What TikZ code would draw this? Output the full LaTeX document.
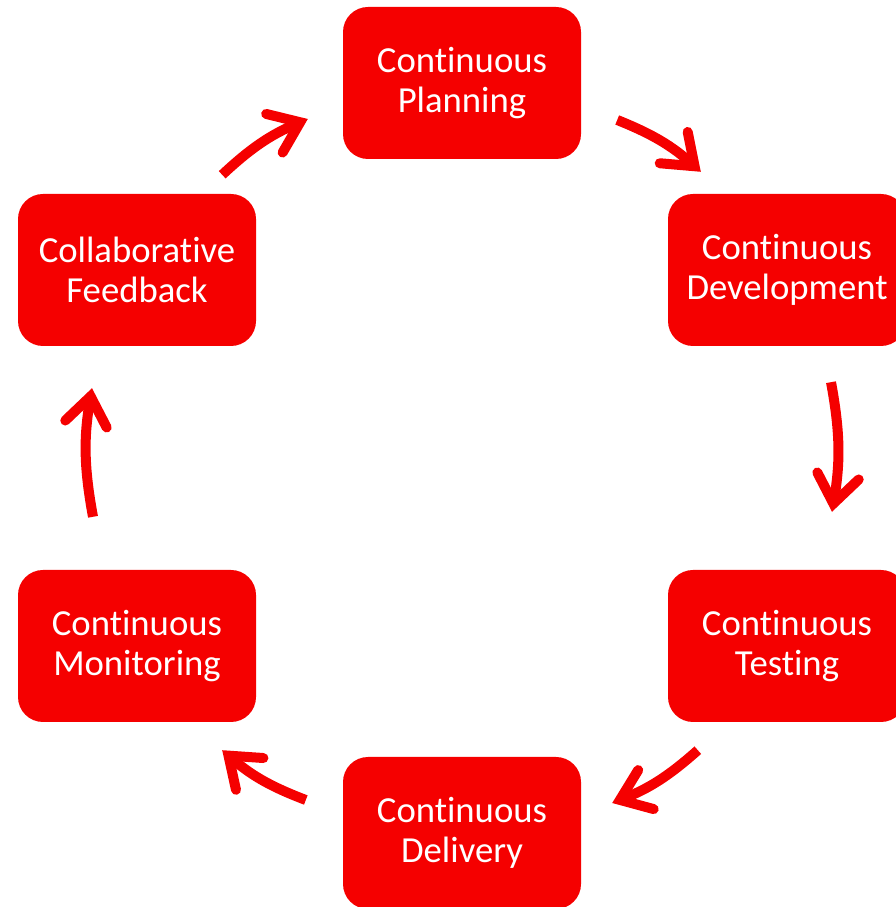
\documentclass[tikz,border=0pt]{standalone}
\usepackage{fontspec}
\setmainfont{Carlito}[Ligatures=NoCommon]
\usetikzlibrary{arrows.meta,calc}
\definecolor{boxred}{RGB}{245,0,0}
\tikzset{
  stage/.style={fill=boxred, draw=none, rounded corners=25pt, minimum width=238pt, minimum height=152pt,
    text=white, align=center, inner sep=0pt, font=\fontsize{36.7pt}{40pt}\selectfont},
  flow/.style={draw=boxred, line width=10pt, line cap=butt,
    -{Straight Barb[length=28pt,width=42pt,line cap=round,line join=miter]}},
}
\begin{document}
\begin{tikzpicture}[x=1pt,y=1pt]
\useasboundingbox (0,0) rectangle (895,907);
\node[stage] (pl)  at (462,824) {Continuous\\Planning};
\node[stage] (dev) at (787,637) {Continuous\\Development};
\node[stage] (tst) at (787,261) {Continuous\\Testing};
\node[stage] (del) at (462,74)  {Continuous\\Delivery};
\node[stage] (mon) at (137,261) {Continuous\\Monitoring};
\node[stage] (fb)  at (137,637) {Collaborative\\Feedback};
\draw[flow] ($(fb.north east)+(-34,19)$) to[bend left=10] ($(pl.west)+(-35,-36)$);
\draw[flow] ($(pl.east)+(36,-37)$) to[bend left=10] ($(dev.north west)+(33,22)$);
\draw[flow] ($(dev.south)+(44,-36)$) to[bend left=10] ($(tst.north)+(45,58)$);
\draw[flow] ($(tst.south west)+(30,-28)$) to[bend left=10] ($(del.east)+(31,30)$);
\draw[flow] ($(del.west)+(-37,33)$) to[bend left=10] ($(mon.south east)+(-34,-28)$);
\draw[flow] ($(mon.north)+(-44,53)$) to[bend left=10] ($(fb.south)+(-45,-42)$);
\end{tikzpicture}
\end{document}
